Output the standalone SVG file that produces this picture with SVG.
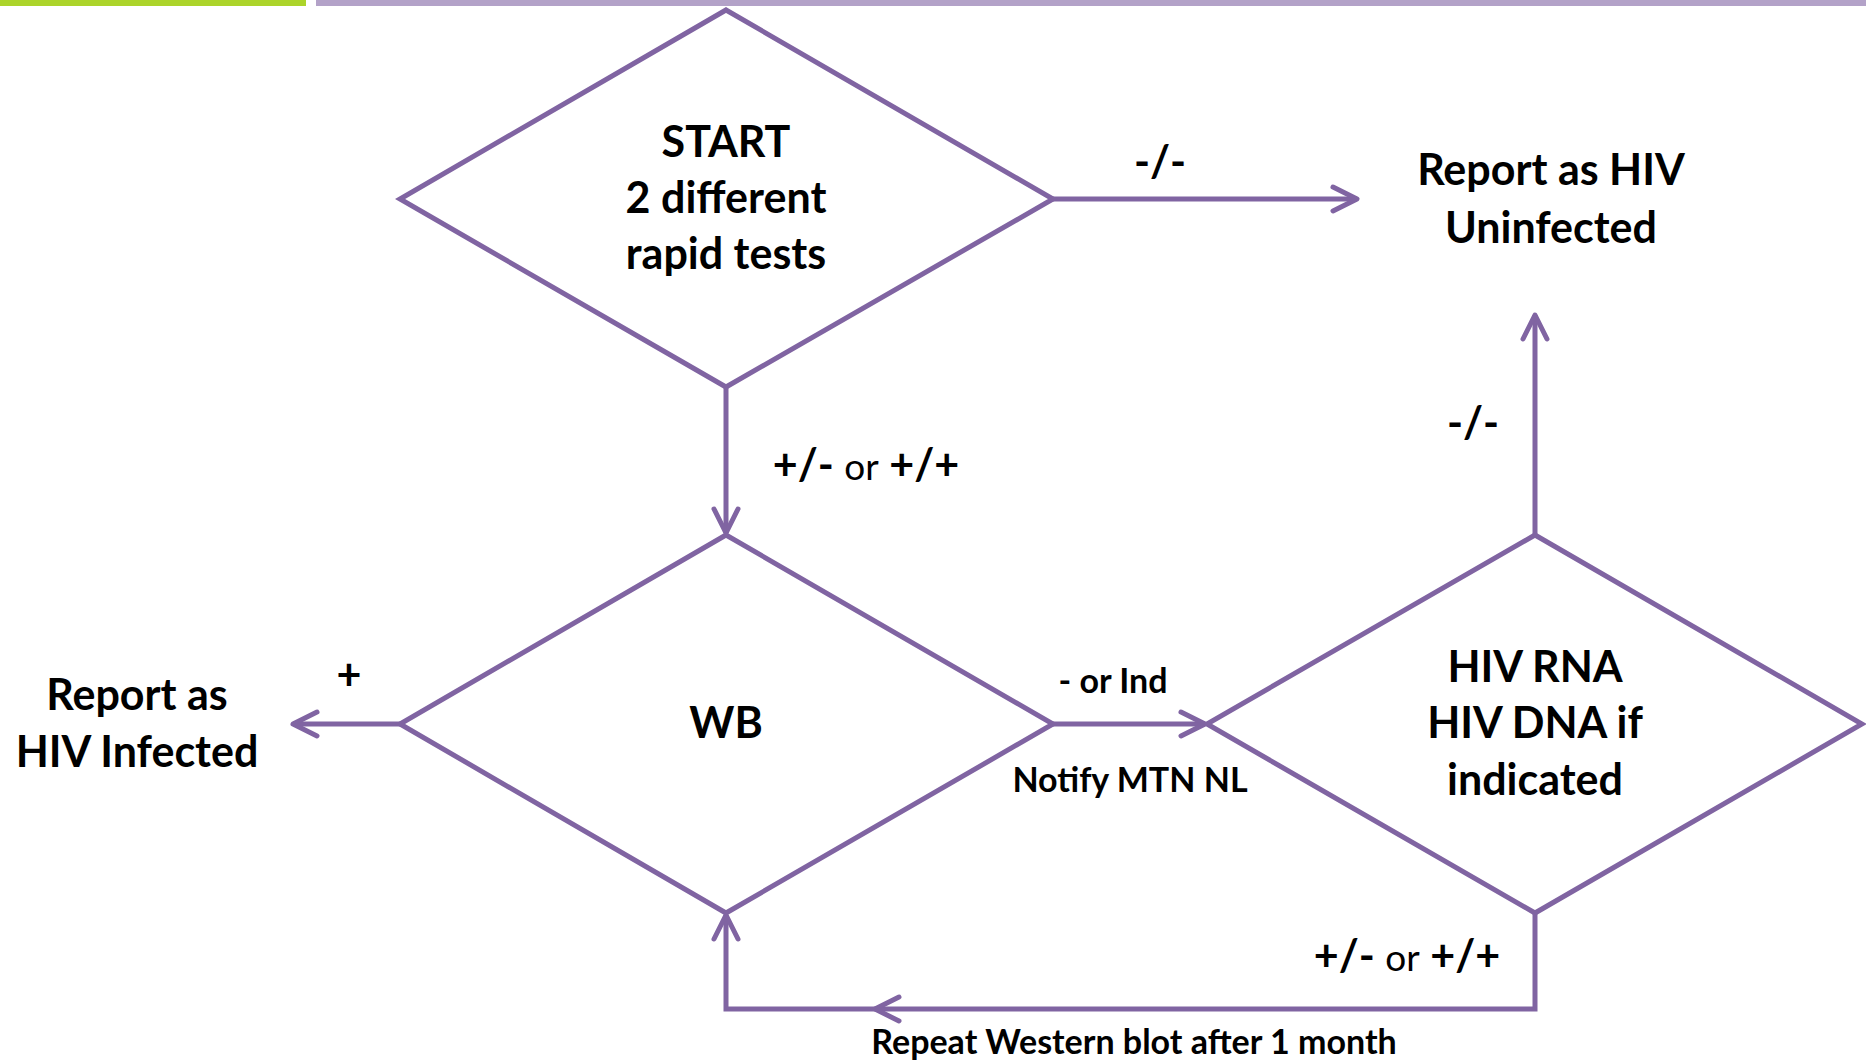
<svg xmlns="http://www.w3.org/2000/svg" width="1866" height="1060" viewBox="0 0 1866 1060">
<defs>
<marker id="chev" markerUnits="userSpaceOnUse" markerWidth="40" markerHeight="40" viewBox="-30 -20 40 40" refX="0" refY="0" orient="auto">
<path d="M -24 -12 L 0 0 L -24 12" fill="none" stroke="#8064a2" stroke-width="5" stroke-linecap="round" stroke-linejoin="round"/>
</marker>
<style>
.shape{fill:#fff;stroke:#8064a2;stroke-width:5;stroke-linejoin:miter}
.conn{fill:none;stroke:#8064a2;stroke-width:5}
.t{font-family:Lato,"Liberation Sans",sans-serif;font-weight:bold;font-size:43px;fill:#000;text-anchor:middle}
.s{font-size:34px}
.or{font-weight:normal;font-size:37px}
</style>
</defs>
<rect x="0" y="0" width="306" height="6" fill="#acd42a"/>
<rect x="316" y="0" width="1550" height="6" fill="#b3a2c8"/>
<g id="connectors">
<line class="conn" x1="1053" y1="199" x2="1357" y2="199" marker-end="url(#chev)"/>
<line class="conn" x1="726" y1="387" x2="726" y2="533" marker-end="url(#chev)"/>
<line class="conn" x1="400" y1="724" x2="293" y2="724" marker-end="url(#chev)"/>
<line class="conn" x1="1053" y1="724" x2="1205" y2="724" marker-end="url(#chev)"/>
<line class="conn" x1="1535" y1="535" x2="1535" y2="315" marker-end="url(#chev)"/>
<path class="conn" d="M 1535 913 L 1535 1009 L 875 1009" marker-end="url(#chev)"/>
<path class="conn" d="M 875 1009 L 726 1009 L 726 915" marker-end="url(#chev)"/>
<text class="t" x="1160" y="177">-/-</text>
<text class="t" x="866" y="480">+/- <tspan class="or">or</tspan> +/+</text>
<text class="t" x="349" y="690">+</text>
<text class="t s" x="1113" y="693">- or Ind</text>
<text class="t s" x="1130" y="792">Notify MTN NL</text>
<text class="t" x="1473" y="438">-/-</text>
<text class="t" x="1407" y="971">+/- <tspan class="or">or</tspan> +/+</text>
<text class="t s" x="1134" y="1054">Repeat Western blot after 1 month</text>
</g>
<g id="start">
<polygon class="shape" points="726,10 1053,199 726,387 400,199"/>
<text class="t" x="726" y="157">START</text>
<text class="t" x="726" y="213">2 different</text>
<text class="t" x="726" y="269">rapid tests</text>
</g>
<g id="wb">
<polygon class="shape" points="726,535 1053,724 726,913 400,724"/>
<text class="t" x="726" y="738">WB</text>
</g>
<g id="rna">
<polygon class="shape" points="1535,535 1862,724 1535,913 1207,724"/>
<text class="t" x="1535" y="682">HIV RNA</text>
<text class="t" x="1535" y="738">HIV DNA if</text>
<text class="t" x="1535" y="795">indicated</text>
</g>
<g id="uninfected">
<text class="t" x="1551" y="185">Report as HIV</text>
<text class="t" x="1551" y="243">Uninfected</text>
</g>
<g id="infected">
<text class="t" x="137" y="710">Report as</text>
<text class="t" x="137" y="767">HIV Infected</text>
</g>
</svg>
